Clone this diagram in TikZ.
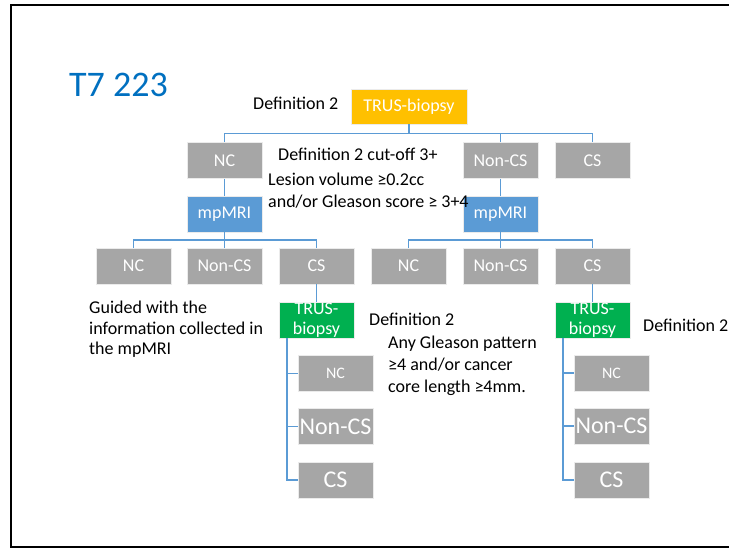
\documentclass[tikz,border=0pt]{standalone}
\usepackage{fontspec}
\setmainfont{Carlito}
\definecolor{boxgray}{HTML}{A6A6A6}
\definecolor{boxblue}{HTML}{5B9BD5}
\definecolor{boxyellow}{HTML}{FFC000}
\definecolor{boxgreen}{HTML}{00B050}
\definecolor{linkblue}{HTML}{5B9BD5}
\definecolor{titleblue}{HTML}{0070C0}
\tikzset{
  box/.style={rectangle, minimum width=75pt, minimum height=36pt, inner sep=0pt,
    text=white, draw=white!92!black, line width=0.6pt, font=\fontsize{18}{20}\selectfont},
  graybox/.style={box, fill=boxgray},
  bluebox/.style={box, fill=boxblue},
  greenbox/.style={box, fill=boxgreen, align=center},
  link/.style={draw=linkblue, line width=1.1pt},
  note/.style={anchor=west, inner sep=0pt, align=left, text=black},
}
\begin{document}
\begin{tikzpicture}[x=1pt, y=-1pt]
\useasboundingbox (0,0) rectangle (729,548);
\fill[white] (0,0) rectangle (729,548);
% slide frame
\draw[line width=2pt] (730,5) -- (11,5) -- (11,547) -- (730,547);

% title
\node[anchor=west, inner sep=0pt, text=titleblue, font=\fontsize{36}{40}\selectfont] (title) at (69,85) {T7 223};

% root
\node[box, fill=boxyellow, minimum width=116pt, minimum height=35pt] (root) at (409,106.5) {TRUS-biopsy};

% first level
\node[graybox] (nc1) at (224.5,160.5) {NC};
\node[graybox] (ncs1) at (500.5,160.5) {Non-CS};
\node[graybox] (cs1) at (592.5,160.5) {CS};

% mpMRI
\node[bluebox] (mriL) at (224.5,214) {mpMRI};
\node[bluebox] (mriR) at (500.5,214) {mpMRI};

% mpMRI outcomes
\node[graybox] (ncL) at (133.5,266) {NC};
\node[graybox] (ncsL) at (224.5,266) {Non-CS};
\node[graybox] (csL) at (316.5,266) {CS};
\node[graybox] (ncR) at (408.5,266) {NC};
\node[graybox] (ncsR) at (500.5,266) {Non-CS};
\node[graybox] (csR) at (592.5,266) {CS};

% targeted biopsies
\node[greenbox] (bioL) at (316.5,320) {TRUS-\\biopsy};
\node[greenbox] (bioR) at (592.5,320) {TRUS-\\biopsy};

% biopsy outcomes
\node[graybox, font=\fontsize{16}{18}\selectfont] (sNcL) at (335.5,373.5) {NC};
\node[graybox, font=\fontsize{24}{26}\selectfont] (sNcsL) at (335.5,426.5) {Non-CS};
\node[graybox, font=\fontsize{24}{26}\selectfont] (sCsL) at (335.5,480) {CS};
\node[graybox, font=\fontsize{16}{18}\selectfont] (sNcR) at (611.5,373) {NC};
\node[graybox, font=\fontsize{24}{26}\selectfont] (sNcsR) at (611.5,426) {Non-CS};
\node[graybox, font=\fontsize{24}{26}\selectfont] (sCsR) at (611.5,480) {CS};

% connectors
\coordinate (j0) at (409,133.5);
\draw[link] (root.south) -- (j0);
\draw[link] (j0) -| (nc1.north);
\draw[link] (j0) -| (ncs1.north);
\draw[link] (j0) -| (cs1.north);
\draw[link] (nc1.south) -- (mriL.north);
\draw[link] (ncs1.south) -- (mriR.north);

\coordinate (jL) at (224.5,240);
\draw[link] (mriL.south) -- (jL);
\draw[link] (jL) -| (ncL.north);
\draw[link] (jL) -| (ncsL.north);
\draw[link] (jL) -| (csL.north);
\coordinate (jR) at (500.5,240);
\draw[link] (mriR.south) -- (jR);
\draw[link] (jR) -| (ncR.north);
\draw[link] (jR) -| (ncsR.north);
\draw[link] (jR) -| (csR.north);

\draw[link] (csL.south) -- (bioL.north);
\draw[link] (csR.south) -- (bioR.north);

\coordinate (tL) at (287,338);
\draw[link] (tL) |- (sNcL.west);
\draw[link] (tL) |- (sNcsL.west);
\draw[link] (tL) |- (sCsL.west);
\coordinate (tR) at (563,338);
\draw[link] (tR) |- (sNcR.west);
\draw[link] (tR) |- (sNcsR.west);
\draw[link] (tR) |- (sCsR.west);

% annotations
\node[note, font=\fontsize{18}{22}\selectfont] (defTop) at (253,103) {Definition 2};
\node[note, font=\fontsize{18}{22}\selectfont] (cutoff) at (278,154) {Definition 2 cut-off 3+};
\node[note, font=\fontsize{18}{22}\selectfont] (lesion) at (268,191) {Lesion volume ≥0.2cc\\and/or Gleason score ≥ 3+4};
\node[note, font=\fontsize{18}{20.5}\selectfont] (guided) at (89,329.5) {Guided with the\\information collected in\\the mpMRI};
\node[note, font=\fontsize{18}{22}\selectfont] (defL) at (369,319) {Definition 2};
\node[note, font=\fontsize{18}{22}\selectfont] (anyG) at (388,366) {Any Gleason pattern\\≥4 and/or cancer\\core length ≥4mm.};
\node[note, font=\fontsize{18}{22}\selectfont] (defR) at (643,325) {Definition 2};
\end{tikzpicture}
\end{document}
